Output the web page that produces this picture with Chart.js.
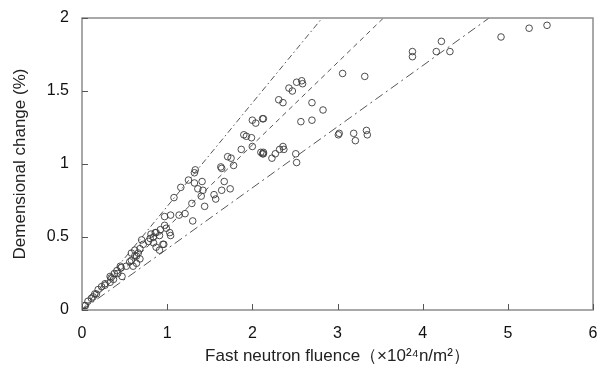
<!DOCTYPE html>
<html>
<head>
<meta charset="utf-8">
<script src="https://cdn.jsdelivr.net/npm/chart.js@4/dist/chart.umd.min.js"></script>
<style>
  html, body { margin: 0; padding: 0; background: #fff; }
  #wrap { width: 601px; height: 378px; }
</style>
</head>
<body>
<div id="wrap"><canvas id="swellChart" width="601" height="378"></canvas></div>
<script>
// measured points: fluence (x10^24 n/m2) and dimensional change (%)
const fluence = [
  5.46, 5.25, 4.92, 4.32, 4.22, 4.16, 3.88, 3.88, 3.06, 3.32,
  2.52, 2.58, 2.59, 2.43, 2.47, 2.31, 2.36, 2.70, 2.83, 2.13,
  2.57, 2.70, 3.01, 3.02, 3.19, 3.21, 3.34, 3.35, 2.13, 2.13,
  2.23, 2.27, 2.32, 2.36, 2.37, 2.51, 2.52, 2.00, 2.04, 2.12,
  1.90, 1.93, 1.99, 1.87, 2.10, 2.12, 1.71, 1.75, 1.63, 1.64,
  1.78, 1.67, 1.64, 1.74, 1.55, 1.57, 1.33, 1.32, 1.25, 1.32,
  1.41, 1.36, 1.42, 1.40, 1.29, 1.44, 1.30, 1.21, 1.14, 1.04,
  0.97, 0.97, 0.92, 0.87, 0.81, 0.84, 0.87, 0.95, 1.04, 0.70,
  0.68, 0.62, 0.58, 0.64, 0.60, 0.45, 0.41, 0.47, 0.37, 0.33,
  0.27, 0.23, 0.19, 0.15, 0.11, 0.07, 0.04, 0.99, 1.03, 0.91,
  0.86, 0.80, 0.78, 0.84, 0.72, 0.96, 0.91, 0.66, 0.62, 0.58,
  0.56, 0.64, 0.68, 0.52, 0.46, 0.42, 0.38, 0.34, 0.33, 0.27,
  0.17, 0.13, 0.03, 2.00, 1.16, 1.08
];
const dimChange = [
  1.95, 1.93, 1.87, 1.77, 1.84, 1.77, 1.77, 1.735, 1.62, 1.60,
  1.56, 1.57, 1.55, 1.52, 1.50, 1.44, 1.42, 1.42, 1.37, 1.31,
  1.29, 1.30, 1.20, 1.21, 1.21, 1.16, 1.23, 1.20, 1.08, 1.07,
  1.04, 1.07, 1.10, 1.12, 1.10, 1.07, 1.01, 1.30, 1.28, 1.31,
  1.20, 1.19, 1.18, 1.10, 1.08, 1.07, 1.05, 1.04, 0.98, 0.97,
  0.99, 0.88, 0.82, 0.83, 0.79, 0.76, 0.96, 0.94, 0.89, 0.87,
  0.88, 0.83, 0.82, 0.78, 0.73, 0.71, 0.61, 0.66, 0.65, 0.65,
  0.64, 0.58, 0.55, 0.53, 0.52, 0.50, 0.43, 0.45, 0.51, 0.48,
  0.42, 0.41, 0.39, 0.37, 0.30, 0.30, 0.27, 0.23, 0.21, 0.23,
  0.17, 0.16, 0.14, 0.11, 0.08, 0.06, 0.03, 0.56, 0.53, 0.51,
  0.53, 0.49, 0.47, 0.46, 0.45, 0.45, 0.41, 0.39, 0.37, 0.34,
  0.33, 0.32, 0.35, 0.30, 0.29, 0.25, 0.25, 0.22, 0.19, 0.18,
  0.11, 0.09, 0.03, 1.12, 0.84, 0.77
];

// the three reference lines, from origin to where they leave the frame
const upperLineX = [0, 2.82];
const upperLineY = [0, 2];
const middleLineX = [0, 3.54];
const middleLineY = [0, 2];
const lowerLineX = [0, 4.78];
const lowerLineY = [0, 2];

const xTicks = [0, 1, 2, 3, 4, 5, 6];
const yTicks = [0, 0.5, 1, 1.5, 2];

function toPoints(xs, ys) {
  return xs.map((x, i) => ({ x: x, y: ys[i] }));
}

function refLine(xs, ys, dash) {
  return {
    type: 'scatter',
    data: toPoints(xs, ys),
    showLine: true,
    borderColor: '#555',
    borderWidth: 1,
    borderDash: dash,
    pointRadius: 0,
    fill: false
  };
}

// frame + inward tick marks like the original figure
const framePlugin = {
  id: 'frame',
  afterDraw(chart) {
    const ctx = chart.ctx;
    const a = chart.chartArea;
    const xs = chart.scales.x;
    const ys = chart.scales.y;
    ctx.save();
    ctx.strokeStyle = '#8c8c8c';
    ctx.lineWidth = 1.5;
    ctx.strokeRect(a.left, a.top, a.right - a.left, a.bottom - a.top);
    ctx.strokeStyle = '#555';
    ctx.lineWidth = 1;
    ctx.beginPath();
    xTicks.forEach(v => {
      const px = Math.round(xs.getPixelForValue(v)) + 0.5;
      ctx.moveTo(px, a.bottom);
      ctx.lineTo(px, a.bottom - 6);
    });
    yTicks.forEach(v => {
      const py = Math.round(ys.getPixelForValue(v)) + 0.5;
      ctx.moveTo(a.left, py);
      ctx.lineTo(a.left + 6, py);
    });
    ctx.stroke();
    ctx.restore();
  }
};

const tickFont = { family: 'Liberation Sans, Arial', size: 16 };
const titleFont = { family: 'Liberation Sans, Arial', size: 17 };

const ctx = document.getElementById('swellChart').getContext('2d');
const swellChart = new Chart(ctx, {
  type: 'scatter',
  data: {
    datasets: [
      {
        label: 'measured',
        data: toPoints(fluence, dimChange),
        pointStyle: 'circle',
        pointRadius: 3.3,
        pointBorderWidth: 0.9,
        borderColor: '#3a3a3a',
        backgroundColor: 'rgba(255,255,255,0)'
      },
      refLine(upperLineX, upperLineY, [6, 3, 1.5, 3]),
      refLine(middleLineX, middleLineY, [5, 4]),
      refLine(lowerLineX, lowerLineY, [9, 4, 2, 4])
    ]
  },
  plugins: [framePlugin],
  options: {
    responsive: false,
    animation: false,
    devicePixelRatio: 1,
    layout: { padding: { top: 18, right: 8, left: 10, bottom: 0 } },
    plugins: {
      legend: { display: false },
      tooltip: { enabled: false }
    },
    scales: {
      x: {
        type: 'linear',
        min: 0,
        max: 6,
        afterBuildTicks: s => { s.ticks = xTicks.map(v => ({ value: v })); },
        afterFit: s => { s.height = 68; s.paddingLeft = 0; s.paddingRight = 0; },
        grid: { display: false, drawTicks: false },
        border: { display: false },
        ticks: {
          padding: 14,
          color: '#111',
          font: tickFont,
          callback: v => String(v)
        },
        title: {
          display: true,
          text: 'Fast neutron fluence（×10²⁴n/m²）',
          color: '#222',
          font: titleFont,
          padding: { top: 0, bottom: 11 }
        }
      },
      y: {
        type: 'linear',
        min: 0,
        max: 2,
        afterBuildTicks: s => { s.ticks = yTicks.map(v => ({ value: v })); },
        afterFit: s => { s.width = 72; s.paddingTop = 0; s.paddingBottom = 0; },
        grid: { display: false, drawTicks: false },
        border: { display: false },
        ticks: {
          padding: 13,
          color: '#111',
          font: tickFont,
          callback: v => String(v)
        },
        title: {
          display: true,
          text: 'Demensional change (%)',
          color: '#222',
          font: titleFont,
          padding: { top: 0, bottom: 0 }
        }
      }
    }
  }
});
</script>
</body>
</html>
